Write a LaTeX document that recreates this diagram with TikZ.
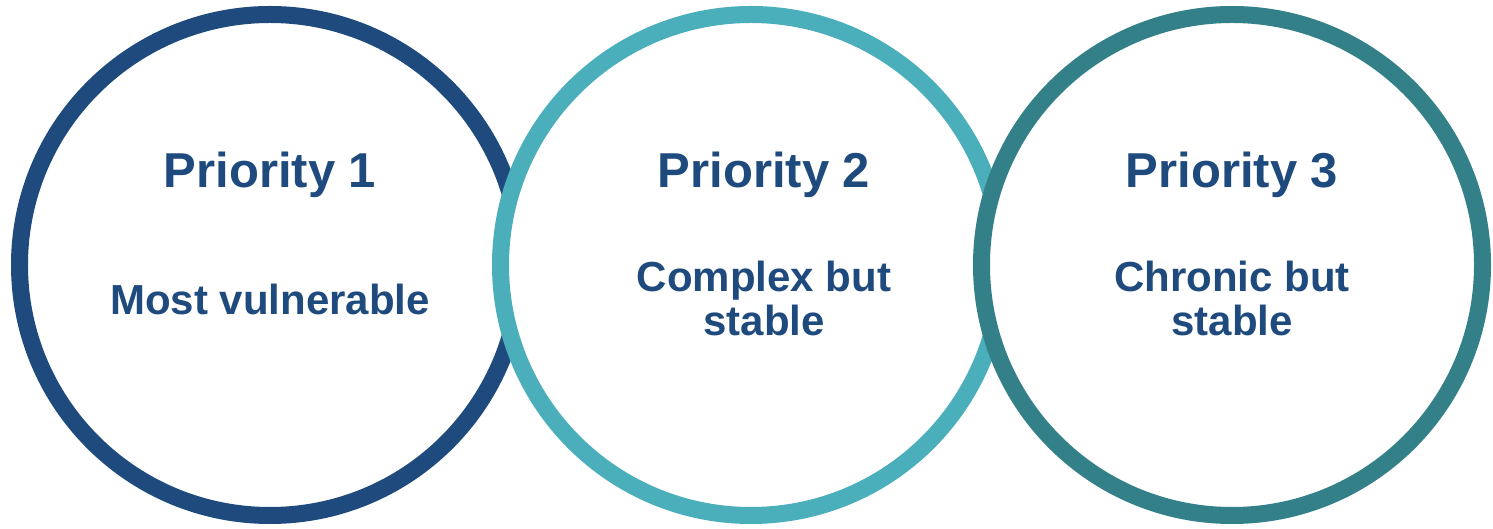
\documentclass[tikz,border=0pt]{standalone}
\usepackage{fontspec}
\setmainfont{Liberation Sans}
\usetikzlibrary{chains,positioning}
\definecolor{prionavy}{HTML}{1F4A7D}
\definecolor{prioteal}{HTML}{4BAEBB}
\definecolor{priosea}{HTML}{338089}
\begin{document}
\begin{tikzpicture}[%
    x=0.5pt, y=-0.5pt,          % One unit is one pixel of the layout
    on grid,                    % Distances go centre to centre
    start chain=going right,    % Rings run left to right
    node distance=240.5pt,      % Centre to centre of the rings
    ]
% -------------------------------------------------
% Ring and text styles
\tikzset{
  base/.style={draw, on chain, circle, fill=white, line width=8.5pt,
    minimum size=250.5pt, inner sep=0pt},
  ringone/.style={base, draw=prionavy},
  ringtwo/.style={base, draw=prioteal},
  ringthree/.style={base, draw=priosea},
  % Labels inside the rings (base is the last line)
  title/.style={anchor=base, text=prionavy, font={\bfseries\fontsize{24.5}{29}\selectfont}},
  sub/.style={anchor=base, text=prionavy, align=center, font={\bfseries\fontsize{21}{22}\selectfont}},
}
\useasboundingbox (-270,-265) rectangle (1223,264);
% -------------------------------------------------
% Place the rings; each one covers the one before
\node [ringone] (p1) {};
\node [ringtwo] (p2) {};
\node [ringthree] (p3) {};
% -------------------------------------------------
% Then the texts
\node [title] (t1) at ([yshift=38.5pt]p1.center) {Priority 1};
\node [sub] (s1) at ([yshift=-25pt]p1.center) {Most vulnerable};
\node [title] (t2) at ([xshift=6.5pt, yshift=38.5pt]p2.center) {Priority 2};
\node [sub] (s2) at ([xshift=6.5pt, yshift=-35.5pt]p2.center) {Complex but\\stable};
\node [title] (t3) at ([yshift=38.5pt]p3.center) {Priority 3};
\node [sub] (s3) at ([yshift=-35.5pt]p3.center) {Chronic but\\stable};
% -------------------------------------------------
\end{tikzpicture}
\end{document}
